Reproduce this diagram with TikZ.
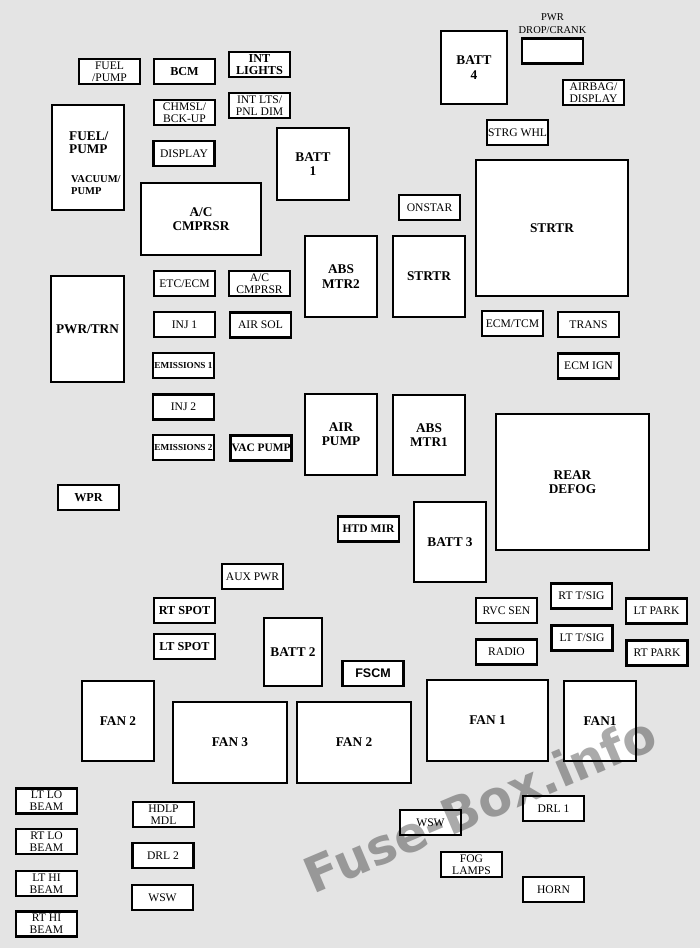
\documentclass[tikz,border=0pt]{standalone}
\usepackage{fontspec}
\setmainfont{Liberation Serif}
\setsansfont{Liberation Sans}
\newfontfamily\markfont{DejaVu Sans}
\usetikzlibrary{positioning}

\definecolor{boardgray}{RGB}{228,228,228}
\definecolor{markgray}{RGB}{170,170,170}

\begin{document}
\begin{tikzpicture}
      [x = 1pt, y = -1pt,
      fuse/.style = {
         draw,
         fill = white,
         line width = 2.4pt,
         inner sep = 0pt,
         minimum width = 61pt,
         minimum height = 25pt,
         align = center,
         font = \fontsize{11.6}{12.2}\selectfont
      },
      boldfuse/.style = {
         fuse,
         font = \fontsize{12.2}{12.8}\selectfont\bfseries
      },
      relay/.style = {
         draw,
         fill = white,
         line width = 1.8pt,
         inner sep = 0pt,
         align = center,
         font = \fontsize{13.3}{14.3}\selectfont\bfseries
      },
      plain/.style = {
         inner sep = 0pt,
         align = left,
         font = \fontsize{13.3}{13}\selectfont\bfseries
      }]
      \fill[boardgray] (0, 0) rectangle (700, 948);
      \useasboundingbox (0, 0) rectangle (700, 948);

      % big boxes
      \node[relay, minimum width = 72pt, minimum height = 105pt] (fuelpumpbig) at (88, 157.5) {};
      \node[plain, anchor = west] (fuelpumptxt) at (69, 142.5) {FUEL/\\PUMP};
      \node[plain, anchor = west, font = \fontsize{10.5}{12.5}\selectfont\bfseries] (vacuumtxt) at (71, 185) {VACUUM/\\PUMP};
      \node[relay, minimum width = 72pt, minimum height = 72pt] (batt1) at (313, 164) {BATT\\1};
      \node[relay, minimum width = 120pt, minimum height = 72pt] (acbig) at (201, 219) {A/C\\CMPRSR};
      \node[relay, minimum width = 66pt, minimum height = 73pt] (batt4) at (474, 67.5) {BATT\\4};
      \node[relay, minimum width = 152pt, minimum height = 136pt] (strtrbig) at (552, 228) {STRTR};
      \node[relay, minimum width = 72pt, minimum height = 81pt] (absmtr2) at (341, 276.5) {ABS\\MTR2};
      \node[relay, minimum width = 72pt, minimum height = 81pt] (strtrsmall) at (429, 276.5) {STRTR};
      \node[relay, minimum width = 73pt, minimum height = 106pt] (pwrtrn) at (87.5, 329) {PWR/TRN};
      \node[relay, minimum width = 72pt, minimum height = 81pt] (airpump) at (341, 434.5) {AIR\\PUMP};
      \node[relay, minimum width = 72pt, minimum height = 80pt] (absmtr1) at (429, 435) {ABS\\MTR1};
      \node[relay, minimum width = 153pt, minimum height = 136pt] (reardefog) at (572.5, 482) {REAR\\DEFOG};
      \node[relay, minimum width = 72pt, minimum height = 80pt] (batt3) at (450, 542) {BATT 3};
      \node[relay, minimum width = 58pt, minimum height = 68pt] (batt2) at (293, 652) {BATT 2};
      \node[relay, minimum width = 72pt, minimum height = 80pt] (fantwoleft) at (118, 721) {FAN 2};
      \node[relay, minimum width = 114pt, minimum height = 81pt] (fanthree) at (230, 742.5) {FAN 3};
      \node[relay, minimum width = 114pt, minimum height = 81pt] (fantwomid) at (354, 742.5) {FAN 2};
      \node[relay, minimum width = 121pt, minimum height = 81pt] (fanone) at (487.5, 720.5) {FAN 1};
      \node[relay, minimum width = 72pt, minimum height = 80pt] (fanoneright) at (600, 721) {FAN1};

      % small boxes
      \node[fuse] (fuelpump) at (109.5, 71.5) {FUEL\\/PUMP};
      \node[boldfuse] (bcm) at (184.5, 71.5) {BCM};
      \node[boldfuse] (intlights) at (259.5, 64.5) {INT\\LIGHTS};
      \node[fuse] (intlts) at (259.5, 105.5) {INT LTS/\\PNL DIM};
      \node[fuse] (chmsl) at (184.5, 112.5) {CHMSL/\\BCK-UP};
      \node[fuse] (display) at (184, 153.5) {DISPLAY};
      \node[fuse] (pwrdrop) at (552.5, 51) {};
      \node[above = 4pt of pwrdrop, inner sep = 0pt, align = center, font = \fontsize{10.5}{12.5}\selectfont] (pwrdroptxt) {PWR\\DROP/CRANK};
      \node[fuse] (airbag) at (593.5, 92.5) {AIRBAG/\\DISPLAY};
      \node[fuse] (strgwhl) at (517.5, 132.5) {STRG WHL};
      \node[fuse] (onstar) at (429.5, 207.5) {ONSTAR};
      \node[fuse] (etcecm) at (184.5, 283.5) {ETC/ECM};
      \node[fuse] (acsmall) at (259.5, 283.5) {A/C\\CMPRSR};
      \node[fuse] (inj1) at (184.5, 324.5) {INJ 1};
      \node[fuse] (airsol) at (260.5, 325) {AIR SOL};
      \node[fuse, font = \fontsize{9.2}{12}\selectfont\bfseries] (emissions1) at (183.5, 365.5) {EMISSIONS 1};
      \node[fuse] (inj2) at (183.5, 407) {INJ 2};
      \node[fuse, font = \fontsize{9.2}{12}\selectfont\bfseries] (emissions2) at (183.5, 447.5) {EMISSIONS 2};
      \node[boldfuse, font = \fontsize{11.4}{12}\selectfont\bfseries] (vacpump) at (261, 448) {VAC PUMP};
      \node[fuse] (ecmtcm) at (512.5, 323.5) {ECM/TCM};
      \node[fuse] (trans) at (588.5, 324.5) {TRANS};
      \node[fuse] (ecmign) at (588.5, 366) {ECM IGN};
      \node[boldfuse] (wpr) at (88.5, 497.5) {WPR};
      \node[boldfuse, font = \fontsize{11.6}{12}\selectfont\bfseries] (htdmir) at (368.5, 529) {HTD MIR};
      \node[fuse] (auxpwr) at (252.5, 576.5) {AUX PWR};
      \node[boldfuse] (rtspot) at (184.5, 610.5) {RT SPOT};
      \node[boldfuse] (ltspot) at (184.5, 646.5) {LT SPOT};
      \node[boldfuse, font = \fontsize{12.5}{13}\selectfont\sffamily\bfseries] (fscm) at (373, 673.5) {FSCM};
      \node[fuse] (rvcsen) at (506.5, 610.5) {RVC SEN};
      \node[fuse] (rttsig) at (581.5, 596) {RT T/SIG};
      \node[fuse] (ltpark) at (656.5, 611) {LT PARK};
      \node[fuse] (radio) at (506.5, 652) {RADIO};
      \node[fuse] (lttsig) at (582, 638) {LT T/SIG};
      \node[fuse] (rtpark) at (657, 653) {RT PARK};
      \node[fuse] (ltlo) at (46.5, 801) {LT LO\\BEAM};
      \node[fuse] (rtlo) at (46.5, 841.5) {RT LO\\BEAM};
      \node[fuse] (lthi) at (46.5, 883.5) {LT HI\\BEAM};
      \node[fuse] (rthi) at (46.5, 924) {RT HI\\BEAM};
      \node[fuse] (hdlp) at (163.5, 814.5) {HDLP\\MDL};
      \node[fuse] (drl2) at (163, 855.5) {DRL 2};
      \node[fuse] (wswleft) at (162.5, 897.5) {WSW};
      \node[fuse] (wswright) at (430.5, 822.5) {WSW};
      \node[fuse] (foglamps) at (471.5, 864.5) {FOG\\LAMPS};
      \node[fuse] (drl1) at (553.5, 808.5) {DRL 1};
      \node[fuse] (horn) at (553.5, 889.5) {HORN};

      \begin{scope}[blend mode = multiply]
         \node[rotate = 23, text = markgray, inner sep = 0pt,
            font = \markfont\bfseries\fontsize{49}{49}\selectfont] (mark) at (480, 804) {Fuse-Box.info};
      \end{scope}
   \end{tikzpicture}
\end{document}
